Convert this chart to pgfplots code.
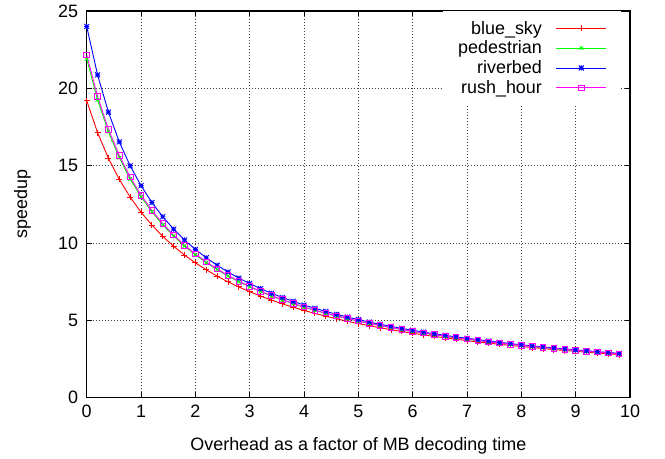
\documentclass[border=0pt]{standalone}
\usepackage{pgfplots}
\pgfplotsset{compat=1.18}
\usepackage{pgfplotstable}
\usepackage{fontspec}
\setmainfont{Liberation Sans}
\definecolor{gpred}{RGB}{255,0,0}
\definecolor{gpgreen}{RGB}{0,255,0}
\definecolor{gpblue}{RGB}{0,0,255}
\definecolor{gpmag}{RGB}{255,0,255}
\pgfdeclareplotmark{gpstar}{%
  \pgfpathmoveto{\pgfqpoint{-\pgfplotmarksize}{0pt}}\pgfpathlineto{\pgfqpoint{\pgfplotmarksize}{0pt}}%
  \pgfpathmoveto{\pgfqpoint{0pt}{-\pgfplotmarksize}}\pgfpathlineto{\pgfqpoint{0pt}{\pgfplotmarksize}}%
  \pgfpathmoveto{\pgfqpoint{-\pgfplotmarksize}{-\pgfplotmarksize}}\pgfpathlineto{\pgfqpoint{\pgfplotmarksize}{\pgfplotmarksize}}%
  \pgfpathmoveto{\pgfqpoint{-\pgfplotmarksize}{\pgfplotmarksize}}\pgfpathlineto{\pgfqpoint{\pgfplotmarksize}{-\pgfplotmarksize}}%
  \pgfusepathqstroke}
\pgfplotstableread{
x    blue   ped    river  rush
0.0  19.20  21.90  24.00  22.17
0.2  17.14  19.26  20.87  19.47
0.4  15.48  17.19  18.46  17.35
0.6  14.11  15.52  16.54  15.65
0.8  12.97  14.14  14.99  14.26
1.0  11.99  12.99  13.71  13.09
1.2  11.16  12.02  12.62  12.10
1.4  10.43  11.18  11.70  11.25
1.6   9.79  10.45  10.90  10.51
1.8   9.22   9.80  10.20   9.86
2.0   8.72   9.24   9.59   9.29
2.2   8.27   8.73   9.05   8.78
2.4   7.86   8.28   8.56   8.32
2.6   7.49   7.87   8.13   7.91
2.8   7.16   7.50   7.73   7.53
3.0   6.85   7.17   7.38   7.19
3.2   6.57   6.86   7.05   6.88
3.4   6.31   6.58   6.75   6.60
3.6   6.07   6.32   6.48   6.34
3.8   5.85   6.08   6.23   6.10
4.0   5.64   5.85   5.99   5.87
4.2   5.45   5.65   5.78   5.66
4.4   5.27   5.45   5.58   5.47
4.6   5.10   5.27   5.39   5.29
4.8   4.94   5.11   5.21   5.12
5.0   4.79   4.95   5.05   4.96
5.2   4.66   4.80   4.89   4.81
5.4   4.52   4.66   4.75   4.67
5.6   4.40   4.53   4.61   4.54
5.8   4.28   4.40   4.48   4.41
6.0   4.17   4.28   4.36   4.29
6.2   4.06   4.17   4.24   4.18
6.4   3.96   4.07   4.13   4.08
6.6   3.87   3.96   4.03   3.97
6.8   3.78   3.87   3.93   3.88
7.0   3.69   3.78   3.84   3.79
7.2   3.60   3.69   3.75   3.70
7.4   3.53   3.61   3.66   3.61
7.6   3.45   3.53   3.58   3.53
7.8   3.38   3.45   3.50   3.46
8.0   3.31   3.38   3.42   3.38
8.2   3.24   3.31   3.35   3.31
8.4   3.18   3.24   3.28   3.25
8.6   3.11   3.18   3.22   3.18
8.8   3.05   3.11   3.15   3.12
9.0   3.00   3.06   3.09   3.06
9.2   2.94   3.00   3.03   3.00
9.4   2.89   2.94   2.98   2.95
9.6   2.84   2.89   2.92   2.89
9.8   2.79   2.84   2.87   2.84
}\datatable
\begin{document}
\begin{tikzpicture}[font=\fontsize{18}{21}\selectfont]
\path[use as bounding box] (-86.7bp,-61.3bp) rectangle (578.3bp,397.7bp);
\begin{axis}[
  at={(0,0)}, anchor=south west,
  scale only axis, width=543.3bp, height=386.7bp,
  xmin=0, xmax=10, ymin=0, ymax=25,
  xtick={0,1,...,10}, ytick={0,5,...,25},
  /pgf/number format/assume math mode=true,
  tick label style={font=\fontsize{18}{21}\selectfont},
  xticklabel style={yshift=-4bp},
  yticklabel style={xshift=-5bp},
  grid=major,
  major grid style={black!75, line width=0.7bp, dash pattern=on 0.8bp off 2.2bp},
  tick align=inside, tick pos=both,
  major tick length=5.5bp,
  every tick/.style={black, line width=0.8bp},
  axis line style={black, line width=1.3bp},
  xlabel={Overhead as a factor of MB decoding time},
  ylabel={speedup},
  every axis x label/.style={at={(axis description cs:0.5,-0.1249)}, anchor=center},
  every axis y label/.style={at={(axis description cs:-0.1182,0.5)}, rotate=90, anchor=center},
  legend cell align=right,
  legend plot pos=right,
  legend style={at={(axis description cs:0.9816,1)}, anchor=north east,
    draw=white, fill=white, inner xsep=13bp, inner ysep=8bp,
    row sep=1.3bp, column sep=12bp,
    font=\fontsize{18}{21}\selectfont},
  legend image code/.code={%
    \draw[mark repeat=2,mark phase=2] plot coordinates {(0bp,0bp) (25bp,0bp) (50bp,0bp)};},
  every axis plot/.append style={line width=0.9bp, mark options={solid, line width=0.9bp}},
]
\addplot[gpred, draw=gpred, mark=+, mark size=3bp, mark options={draw=gpred}] table[x=x, y=blue] {\datatable};
\addlegendentry{blue\_sky}
\addplot[gpgreen, draw=gpgreen, mark=x, mark size=2.5bp] table[x=x, y=ped] {\datatable};
\addlegendentry{pedestrian}
\addplot[gpblue, draw=gpblue, mark=gpstar, mark size=2.5bp] table[x=x, y=river] {\datatable};
\addlegendentry{riverbed}
\addplot[gpmag, draw=gpmag, mark=square, mark size=2.8bp] table[x=x, y=rush] {\datatable};
\addlegendentry{rush\_hour}
\end{axis}
\end{tikzpicture}
\end{document}
